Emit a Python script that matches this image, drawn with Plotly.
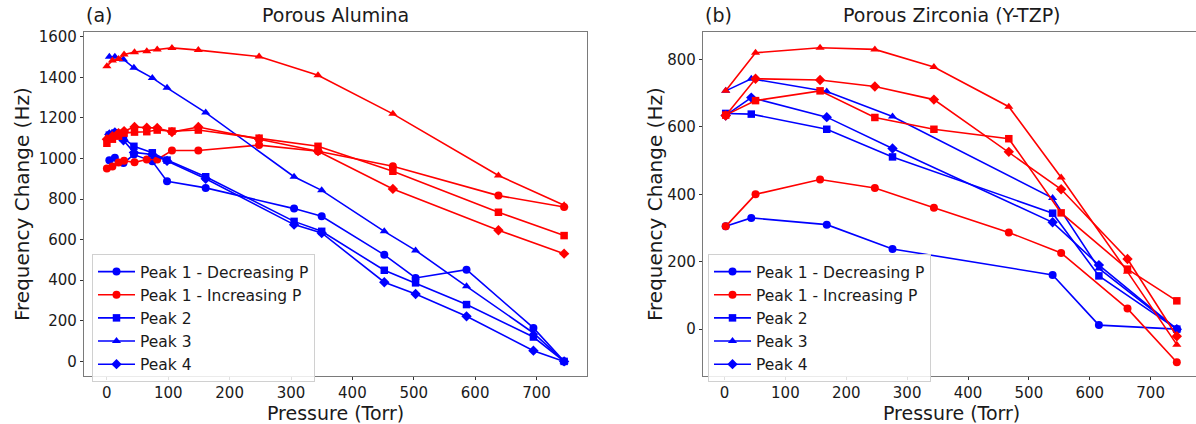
import plotly.graph_objects as go

# ---------------- Data: (a) Porous Alumina ----------------
a_p_dec = [745, 695, 586, 503, 452, 350, 305, 161, 98, 74, 44, 27, 13, 4]
a_peak1_dec = [0, 165, 452, 411, 525, 715, 753, 855, 888, 986, 1019, 978, 1004, 991]
a_peak2_dec = [0, 120, 280, 387, 449, 641, 690, 910, 992, 1028, 1060, 1100, 1125, 1115]
a_peak3_dec = [0, 140, 370, 547, 641, 843, 910, 1226, 1348, 1397, 1447, 1488, 1501, 1501]
a_peak4_dec = [0, 53, 222, 332, 390, 633, 674, 900, 988, 1020, 1030, 1090, 1128, 1118]

a_p_inc = [0, 9, 19, 28, 45, 65, 82, 106, 149, 248, 344, 466, 638, 745]
a_peak1_inc = [950, 961, 980, 989, 981, 995, 995, 1039, 1039, 1066, 1036, 962, 817, 761]
a_peak2_inc = [1075, 1095, 1110, 1125, 1130, 1132, 1140, 1135, 1140, 1100, 1060, 937, 735, 620]
a_peak3_inc = [1455, 1483, 1490, 1512, 1524, 1529, 1537, 1545, 1534, 1502, 1410, 1220, 916, 770]
a_peak4_inc = [1095, 1110, 1125, 1135, 1155, 1152, 1150, 1130, 1155, 1095, 1036, 850, 646, 531]

# ---------------- Data: (b) Porous Zirconia (Y-TZP) ----------------
b_p_dec = [743, 615, 539, 276, 168, 44, 2]
b_peak1_dec = [0, 12, 161, 238, 310, 330, 305]
b_peak2_dec = [0, 158, 344, 511, 593, 638, 640]
b_peak3_dec = [0, 180, 389, 631, 705, 743, 707]
b_peak4_dec = [0, 190, 317, 536, 629, 687, 634]

b_p_inc = [2, 51, 157, 247, 344, 467, 553, 662, 743]
b_peak1_inc = [305, 400, 444, 419, 360, 287, 226, 61, -98]
b_peak2_inc = [635, 678, 707, 628, 593, 565, 345, 178, 84]
b_peak3_inc = [707, 820, 835, 830, 778, 660, 450, 170, -46]
b_peak4_inc = [634, 743, 739, 720, 681, 526, 415, 208, -21]

legend_names = ["Peak 1 - Decreasing P", "Peak 1 - Increasing P", "Peak 2", "Peak 3", "Peak 4"]
panel_titles = ["Porous Alumina", "Porous Zirconia (Y-TZP)"]
panel_tags = ["(a)", "(b)"]
x_label = "Pressure (Torr)"
y_label = "Frequency Change (Hz)"

BLUE = "#0000ff"
RED = "#ff0000"
FONT = "DejaVu Sans"
TXT = "#1a1a1a"
symbols = ["circle", "square", "triangle-up", "diamond"]
msizes = [8, 7.5, 8, 8]

fig = go.Figure()

panels = [
    (a_p_dec, [a_peak1_dec, a_peak2_dec, a_peak3_dec, a_peak4_dec],
     a_p_inc, [a_peak1_inc, a_peak2_inc, a_peak3_inc, a_peak4_inc], "x", "y", "legend"),
    (b_p_dec, [b_peak1_dec, b_peak2_dec, b_peak3_dec, b_peak4_dec],
     b_p_inc, [b_peak1_inc, b_peak2_inc, b_peak3_inc, b_peak4_inc], "x2", "y2", "legend2"),
]

for p_dec, decs, p_inc, incs, xa, ya, lg in panels:
    order = [("dec", 0), ("inc", 0), ("dec", 1), ("dec", 2), ("dec", 3),
             ("inc", 1), ("inc", 2), ("inc", 3)]
    for kind, k in order:
        if kind == "dec":
            xs, ys, col = p_dec, decs[k], BLUE
        else:
            xs, ys, col = p_inc, incs[k], RED
        show = (kind == "dec") or (k == 0)
        if kind == "dec" and k == 0:
            name = legend_names[0]
        elif kind == "inc" and k == 0:
            name = legend_names[1]
        else:
            name = legend_names[k + 1]
        fig.add_trace(go.Scatter(
            x=xs, y=ys, mode="lines+markers", name=name,
            line=dict(color=col, width=1.6),
            marker=dict(symbol=symbols[k], size=msizes[k], color=col),
            showlegend=show, legend=lg, xaxis=xa, yaxis=ya,
        ))

W, H = 1196, 424
top, bottom = 32, 376
yd = [1 - bottom / H, 1 - top / H]
L_RIGHT = 587
lx = [84 / W, L_RIGHT / W]
rx = [703 / W, 1.0]

axis_common = dict(
    showline=True, mirror=True, linecolor="#7a7a7a", linewidth=1.3,
    ticks="outside", ticklen=3, tickcolor="#333", tickwidth=1,
    showgrid=False, zeroline=False, automargin=False,
    tickfont=dict(family=FONT, size=15, color=TXT),
)

fig.update_layout(
    width=W, height=H,
    margin=dict(l=0, r=0, t=0, b=0, autoexpand=False),
    paper_bgcolor="white", plot_bgcolor="white",
    xaxis=dict(domain=lx, range=[-37.3, 782.3], tickvals=[0, 100, 200, 300, 400, 500, 600, 700],
               anchor="y", **axis_common),
    yaxis=dict(domain=yd, range=[-72, 1623.3], tickvals=[0, 200, 400, 600, 800, 1000, 1200, 1400, 1600],
               anchor="x", **axis_common),
    xaxis2=dict(domain=rx, range=[-35.3, 774.5], tickvals=[0, 100, 200, 300, 400, 500, 600, 700],
                anchor="y2", **axis_common),
    yaxis2=dict(domain=yd, range=[-139, 881.6], tickvals=[0, 200, 400, 600, 800],
                anchor="x2", **axis_common),
    legend=dict(x=92 / W, y=1 - 254 / H, xanchor="left", yanchor="top",
                bgcolor="rgba(255,255,255,0.85)", bordercolor="#d0d0d0", borderwidth=1,
                font=dict(family=FONT, size=15.5, color=TXT), tracegroupgap=0,
                itemwidth=37),
    legend2=dict(x=708 / W, y=1 - 254 / H, xanchor="left", yanchor="top",
                 bgcolor="rgba(255,255,255,0.85)", bordercolor="#d0d0d0", borderwidth=1,
                 font=dict(family=FONT, size=15.5, color=TXT), tracegroupgap=0,
                 itemwidth=37),
    font=dict(family=FONT, color=TXT),
)

annos = []
for i, (dom, tag, title) in enumerate(zip([lx, rx], panel_tags, panel_titles)):
    cx = (dom[0] + (L_RIGHT / W if i == 0 else 1200 / W)) / 2
    annos.append(dict(x=dom[0], y=1 - 28 / H, xref="paper", yref="paper", text=tag,
                      xanchor="left", yanchor="bottom", showarrow=False,
                      font=dict(family=FONT, size=19, color=TXT)))
    annos.append(dict(x=cx, y=1 - 28 / H, xref="paper", yref="paper", text=title,
                      xanchor="center", yanchor="bottom", showarrow=False,
                      font=dict(family=FONT, size=19, color=TXT)))
    annos.append(dict(x=cx, y=1 - 413 / H, xref="paper", yref="paper", text=x_label,
                      xanchor="center", yanchor="middle", showarrow=False,
                      font=dict(family=FONT, size=19, color=TXT)))
    yx = 22 / W if i == 0 else 655 / W
    annos.append(dict(x=yx, y=(yd[0] + yd[1]) / 2, xref="paper", yref="paper", text=y_label,
                      xanchor="center", yanchor="middle", showarrow=False, textangle=-90,
                      font=dict(family=FONT, size=20, color=TXT)))
fig.update_layout(annotations=annos)

fig.write_html("out.html",
               config={"displayModeBar": False},
               post_script="document.body.style.margin='0px';document.body.style.overflow='hidden';")
